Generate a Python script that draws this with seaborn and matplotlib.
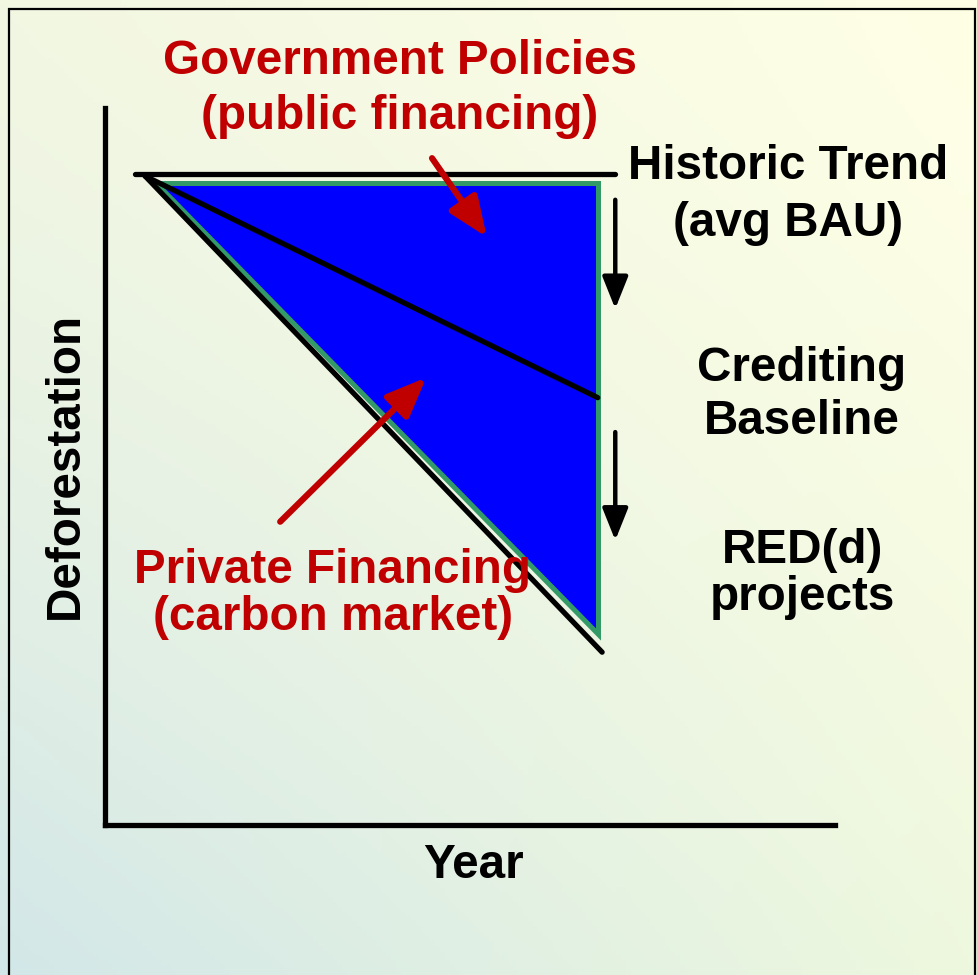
import numpy as np
import pandas as pd
import matplotlib
matplotlib.use("Agg")
import matplotlib.pyplot as plt
import seaborn as sns
from matplotlib.patches import Rectangle

# ---- data (conceptual diagram, axes 0..100) ----
historic_x = [4.1, 69.9]
historic_y = [90.8, 90.8]
baseline_x = [5.5, 67.5]
baseline_y = [90.5, 59.6]
red_x = [5.5, 68.1]
red_y = [90.5, 24.1]
triangle_x = [7.0, 67.6, 67.6]
triangle_y = [89.5, 89.5, 26.6]
down_arrows = [((69.9, 87.2), (69.9, 72.0)), ((69.9, 54.8), (69.9, 39.7))]
gov_arrow = ((44.8, 93.0), (52.3, 82.0))
priv_arrow = ((24.0, 42.3), (44.0, 62.4))

gov_label = "Government Policies\n(public financing)"
priv_label = "Private Financing\n(carbon market)"
hist_label = "Historic Trend\n(avg BAU)"
cred_label = "Crediting\nBaseline"
red_label = "RED(d)\nprojects"
x_label = "Year"
y_label = "Deforestation"

sns.set_style("white")
plt.rcParams["font.family"] = ["Liberation Sans", "DejaVu Sans"]

W, H = 978, 975
fig = plt.figure(figsize=(W / 100, H / 100), dpi=100)

# background gradient
bg = fig.add_axes([0, 0, 1, 1], zorder=0)
tl = np.array([242, 247, 226]) / 255
tr = np.array([255, 255, 230]) / 255
bl = np.array([210, 231, 232]) / 255
br = np.array([238, 248, 222]) / 255
u = np.linspace(0, 1, 200)[None, :, None]
v = np.linspace(0, 1, 200)[:, None, None]
top = tl * (1 - u) + tr * u
bot = bl * (1 - u) + br * u
vv = v ** 1.3
img = top * (1 - vv) + bot * vv
bg.imshow(img, extent=[0, 1, 0, 1], aspect="auto", origin="upper")
bg.set_xlim(0, 1)
bg.set_ylim(0, 1)
bg.axis("off")
bg.add_patch(Rectangle((9 / W, -0.01), (975 - 9) / W, 1 - 9 / H + 0.01,
                       fill=False, edgecolor="black", lw=1.6))

def fx(px):
    return px / W

def fy(py):
    return 1 - py / H

ax = fig.add_axes([fx(105), fy(825), (835 - 105) / W, (825 - 108) / H], zorder=2)
ax.set_facecolor("none")
ax.set_xlim(0, 100)
ax.set_ylim(0, 100)
for s in ["top", "right"]:
    ax.spines[s].set_visible(False)
for s in ["left", "bottom"]:
    ax.spines[s].set_linewidth(3.8)
    ax.spines[s].set_color("black")
ax.set_xticks([])
ax.set_yticks([])

# triangle
ax.fill(triangle_x, triangle_y, facecolor="#0000FF", edgecolor="#339966",
        lw=3.6, joinstyle="miter", zorder=2)

# lines
lines = pd.DataFrame({
    "x": historic_x + baseline_x + red_x,
    "y": historic_y + baseline_y + red_y,
    "line": ["historic"] * 2 + ["baseline"] * 2 + ["red"] * 2,
})
sns.lineplot(data=lines, x="x", y="y", units="line", estimator=None,
             sort=False, color="black", lw=3.8, legend=False, ax=ax, zorder=3)
ax.set_xlabel("")
ax.set_ylabel("")

for (x0, y0), (x1, y1) in down_arrows:
    ax.annotate("", xy=(x1, y1), xytext=(x0, y0),
                arrowprops=dict(arrowstyle="-|>,head_length=0.75,head_width=0.3",
                                lw=3.2, color="black", mutation_scale=26,
                                shrinkA=0, shrinkB=0), zorder=4)

for (x0, y0), (x1, y1) in [gov_arrow, priv_arrow]:
    ax.annotate("", xy=(x1, y1), xytext=(x0, y0),
                arrowprops=dict(arrowstyle="-|>,head_length=0.8,head_width=0.33",
                                lw=4.5, color="#C00000", mutation_scale=30,
                                shrinkA=0, shrinkB=0), zorder=5)

red = "#C00000"
fs = 34.3
fig.text(fx(400), fy(89), gov_label, ha="center", va="center", color=red,
         fontsize=fs, fontweight="bold", linespacing=1.3, zorder=6)
fig.text(fx(333), fy(594), priv_label, ha="center", va="center", color=red,
         fontsize=fs, fontweight="bold", linespacing=1.08, zorder=6)
fig.text(fx(788), fy(195), hist_label, ha="center", va="center", color="black",
         fontsize=fs, fontweight="bold", linespacing=1.33, zorder=6)
fig.text(fx(802), fy(395), cred_label, ha="center", va="center", color="black",
         fontsize=fs, fontweight="bold", linespacing=1.25, zorder=6)
fig.text(fx(803), fy(574), red_label, ha="center", va="center", color="black",
         fontsize=fs, fontweight="bold", linespacing=1.05, zorder=6)
fig.text(fx(473), fy(866), x_label, ha="center", va="center", color="black",
         fontsize=fs, fontweight="bold", zorder=6)
fig.text(fx(65), fy(465), y_label, ha="center", va="center", color="black",
         fontsize=fs, fontweight="bold", rotation=90, zorder=6)

fig.savefig("out.png", dpi=100)
